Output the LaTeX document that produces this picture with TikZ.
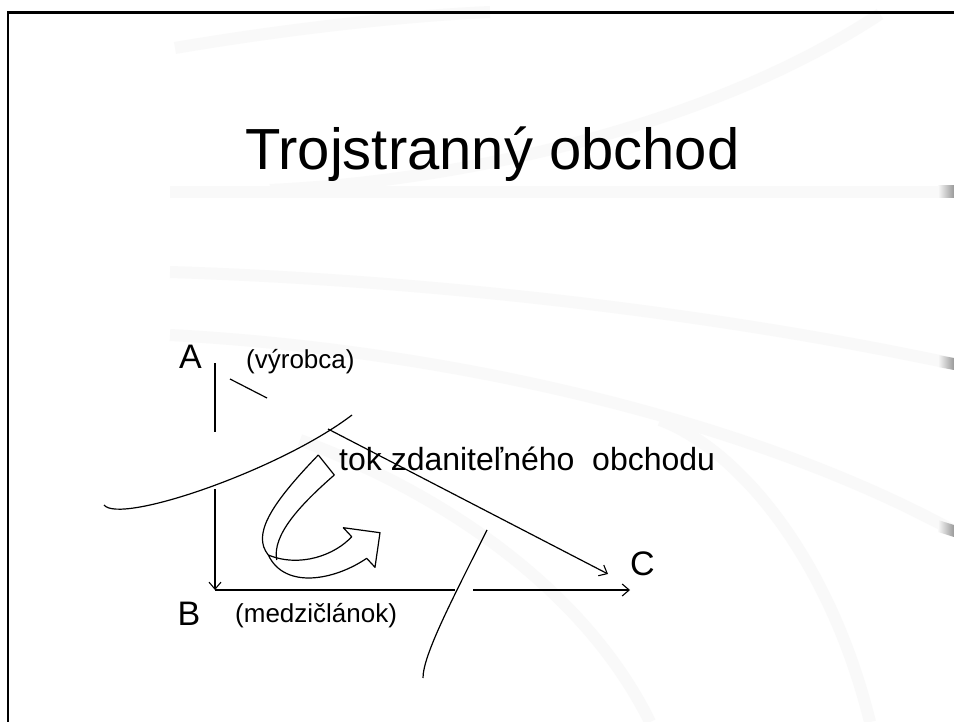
\documentclass[tikz,border=0pt]{standalone}
\usepackage{fontspec}
\setmainfont{Liberation Sans}
\usetikzlibrary{arrows.meta}
\begin{document}
\begin{tikzpicture}[x=1pt,y=-1pt,
  ink/.style={line width=1.2pt,black},
  tip/.style={-{Straight Barb[length=7pt,width=12pt,line width=1.1pt]}},
  band/.style={line width=12pt,color=black!2.5},
  lbl/.style={inner sep=0pt,anchor=base west,font=\fontsize{34}{38}\selectfont},
  small/.style={inner sep=0pt,anchor=base west,font=\fontsize{26}{30}\selectfont},
  ttl/.style={inner sep=0pt,anchor=base west,font=\fontsize{58}{66}\selectfont}]
\useasboundingbox (0,0) rectangle (954,722);
\fill[white] (0,0) rectangle (954,722);
% background swooshes
\draw[band] (175,48) .. controls (280,30) and (400,16) .. (490,12);
\draw[band] (880,14) .. controls (720,120) and (480,180) .. (270,190);
\draw[band] (170,192) -- (954,192);
\draw[band] (170,272) .. controls (420,280) and (700,310) .. (954,364);
\draw[band] (170,335) .. controls (450,350) and (750,420) .. (954,531);
\draw[band] (300,440) .. controls (460,500) and (590,600) .. (650,722);
\draw[band] (660,420) .. controls (740,450) and (830,560) .. (870,722);
\shade[left color=black!2.5,right color=black!40] (938,186) rectangle (954,198);
\shade[left color=black!2.5,right color=black!40] (938,355) -- (954,358) -- (954,370) -- (938,367) -- cycle;
\shade[left color=black!2.5,right color=black!40] (938,520) -- (954,525) -- (954,537) -- (938,532) -- cycle;
% frame
\draw[line width=2.2pt] (8,722) -- (8,12.5) -- (954,12.5);
% title
\node[ttl] (title) at (245,170) {Trojstranný obchod};
% labels
\node[lbl] (A) at (179,369) {A};
\node[small] (vyr) at (246,368) {(výrobca)};
\node[lbl] (B) at (177.5,625) {B};
\node[small] (med) at (235,622) {(medzičlánok)};
\node[lbl] (C) at (630,575) {C};
\node[lbl,font=\fontsize{32}{36}\selectfont] (tok) at (339,470) {tok zdaniteľného\ \ obchodu};
% coordinates
\coordinate (a1) at (215,363);
\coordinate (a2) at (215,432);
\coordinate (s1) at (230,379);
\coordinate (s2) at (267,398);
\coordinate (c0) at (104,505);
\coordinate (c1) at (352,415);
\coordinate (vA) at (215,489);
\coordinate (vB) at (215,590);
\coordinate (hb) at (455,590);
\coordinate (hc) at (473,590);
\coordinate (hC) at (630,590);
\coordinate (dA) at (328,429);
\coordinate (dC) at (608,574);
\coordinate (x0) at (487,530);
\coordinate (x1) at (423,678);
% lines
\draw[ink] (a1) -- (a2);
\draw[ink] (s1) -- (s2);
\draw[ink] (c0) .. controls (120,525) and (280,470) .. (c1);
\draw[ink,tip] (vA) -- (vB);
\draw[ink] (vB) -- (hb);
\draw[ink,tip] (hc) -- (hC);
\draw[ink,tip] (dA) -- (dC);
\draw[ink] (x0) .. controls (452,600) and (423,655) .. (x1);
% ribbon arrow
\coordinate (r1) at (318.3,455);
\coordinate (r2) at (334.3,475);
\coordinate (rt) at (268.3,555);
\coordinate (ri) at (276.7,560);
\coordinate (h1) at (366.7,558.3);
\coordinate (h2) at (375,567.3);
\coordinate (h3) at (380,532.7);
\coordinate (h4) at (343.3,527.7);
\coordinate (h5) at (351.7,536.7);
\draw[ink,line join=round] (r1) .. controls (270,505) and (252,535) .. (rt)
   .. controls (285,590) and (335,580) .. (h1) -- (h2) -- (h3) -- (h4) -- (h5)
   .. controls (335,555) and (300,568) .. (rt);
\draw[ink,line join=round] (r1) -- (r2) .. controls (300,505) and (272,535) .. (ri);
\end{tikzpicture}
\end{document}
